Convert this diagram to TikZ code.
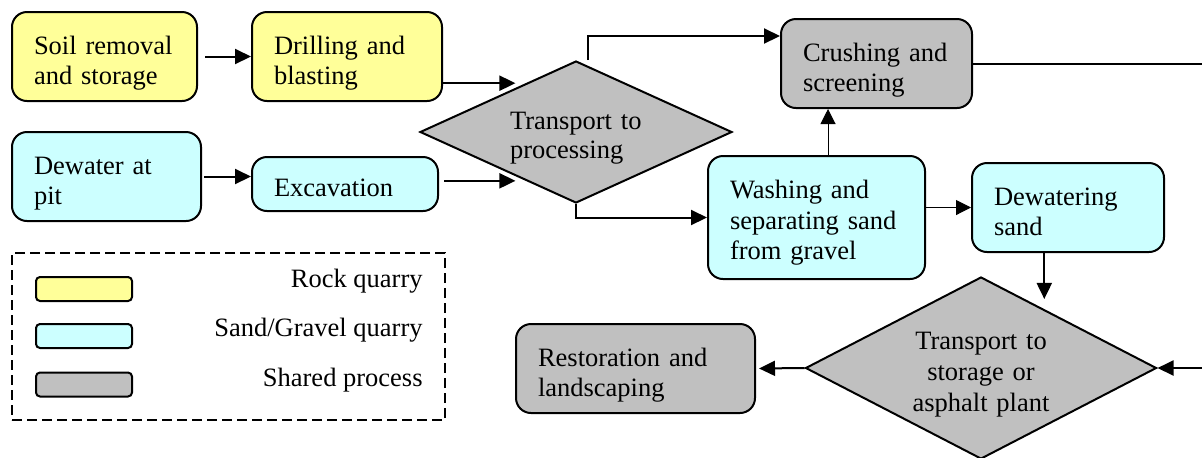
\documentclass[tikz,border=0pt]{standalone}
\usepackage{fontspec}
\setmainfont{Liberation Serif}
\usetikzlibrary{shapes.geometric,arrows.meta}

\definecolor{rockfill}{HTML}{FFFF99}
\definecolor{sandfill}{HTML}{CCFFFF}
\definecolor{sharedfill}{HTML}{C0C0C0}

\tikzset{
  txt/.style={font=\fontsize{13.25}{14.75}\selectfont},
  procbox/.style={txt, draw, line width=1pt, rounded corners=7.5pt,
    inner xsep=11pt, inner ysep=2pt, align=left, text height=12pt},
  twoline/.style={minimum height=44.5pt, text depth=14pt},
  decision/.style={txt, draw, line width=1pt, diamond, aspect=2,
    inner sep=0pt, fill=sharedfill, text height=12pt},
  conn/.style={line width=1pt, -{Triangle[length=8pt,width=7.5pt]}},
  thinconn/.style={line width=0.5pt, -{Triangle[length=7.5pt,width=7.5pt]}},
  swatch/.style={draw, line width=1pt, rounded corners=2pt,
    minimum width=48pt, minimum height=12pt, inner sep=0pt},
}

\begin{document}
\begin{tikzpicture}[x=0.5pt, y=-0.5pt]
\useasboundingbox (0,0) rectangle (1202,457);

% rock quarry steps
\node[procbox, twoline, fill=rockfill, text width=70.5pt]
  (soil) at (104.5,56.5) {Soil removal\\and storage};
\node[procbox, twoline, fill=rockfill, text width=73pt]
  (drill) at (347,56.5) {Drilling and\\blasting};

% sand and gravel quarry steps
\node[procbox, twoline, fill=sandfill, text width=72.5pt]
  (dewater) at (106.5,176.5) {Dewater at\\pit};
\node[procbox, fill=sandfill, text width=71pt, minimum height=27pt, text depth=0pt]
  (excav) at (345,184) {Excavation};
\node[procbox, fill=sandfill, text width=86.5pt, minimum height=61.5pt,
  text depth=31pt, font=\fontsize{13.25}{15.25}\selectfont]
  (wash) at (816.5,217.5) {Washing and\\separating sand\\from gravel};
\node[procbox, twoline, fill=sandfill, text width=74pt]
  (dews) at (1068,207.5) {Dewatering\\sand};

% shared steps
\node[decision, align=left, text width=66pt, text depth=15pt,
  minimum width=156pt, minimum height=71pt]
  (d1) at (576,132) {Transport to\\processing};
\node[procbox, twoline, fill=sharedfill, text width=73.5pt]
  (crush) at (876.5,63.5) {Crushing and\\screening};
\node[decision, align=center, text width=72pt, text depth=30.3pt,
  minimum width=175.5pt, minimum height=91pt,
  font=\fontsize{13.25}{15.5}\selectfont]
  (d2) at (981,368) {Transport to\\storage or\\asphalt plant};
\node[procbox, twoline, fill=sharedfill, text width=97.5pt]
  (resto) at (635.5,368.5) {Restoration and\\landscaping};

% connectors
\draw[conn, shorten <=3.5pt] (soil.east) -- (drill.west);
\draw[conn, shorten <=1pt] (dewater.east) -- (dewater.east -| excav.west);
\draw[conn, shorten >=5pt] (drill.east |- d1.136) -- (d1.136);
\draw[conn, shorten <=2.5pt, shorten >=5pt] (excav.east |- d1.224) -- (d1.224);
\draw[conn] ([xshift=6pt]d1.north) |- ([yshift=13.75pt]crush.west);
\draw[conn] (d1.south) |- (wash.west);
\draw[thinconn] ([xshift=5.75pt]wash.north) -- ([xshift=5.75pt]wash.north |- crush.south);
\draw[thinconn] (wash.east |- dews.west) -- (dews.west);
\draw[conn, shorten >=5pt] (dews.south -| d2.43) -- (d2.43);
\draw[conn] (crush.east) -| ([xshift=30pt]d2.east) -- (d2.east);
\draw[conn, shorten >=1.5pt] (d2.west) -- (resto.east);

% legend
\node[draw, dashed, dash pattern=on 5pt off 2.5pt, line width=1pt,
  minimum width=216.5pt, minimum height=83.5pt, inner sep=0pt]
  (legend) at (228.5,336.5) {};
\node[swatch, fill=rockfill] (swrock) at (84,289) {};
\node[swatch, fill=sandfill] (swsand) at (84,336) {};
\node[swatch, fill=sharedfill] (swshared) at (84,384.5) {};
\node[txt, anchor=base east, inner sep=0pt] (lrock) at (423,287) {Rock quarry};
\node[txt, anchor=base east, inner sep=0pt] (lsand) at (423,336) {Sand/Gravel quarry};
\node[txt, anchor=base east, inner sep=0pt] (lshared) at (423,386) {Shared process};
\end{tikzpicture}
\end{document}
